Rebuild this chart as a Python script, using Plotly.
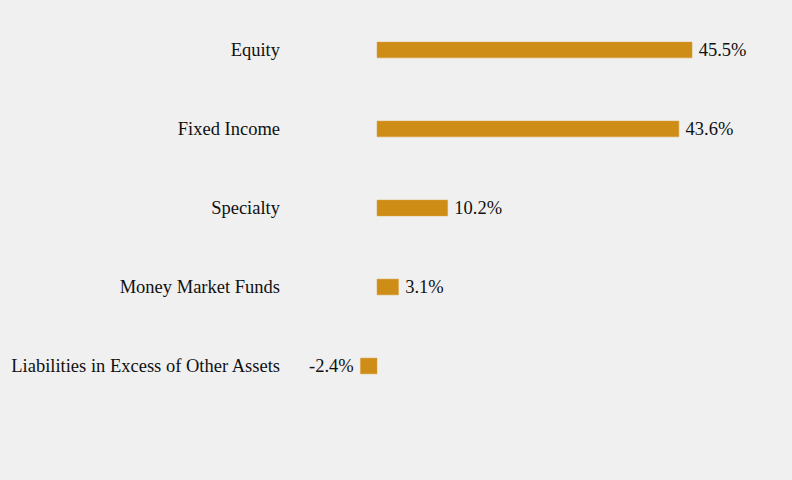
import plotly.graph_objects as go

categories = ["Equity", "Fixed Income", "Specialty", "Money Market Funds",
              "Liabilities in Excess of Other Assets"]
values = [45.5, 43.6, 10.2, 3.1, -2.4]
labels = ["45.5%", "43.6%", "10.2%", "3.1%", "-2.4%"]

bar_color = "#CD8D17"
bg = "#F0F0F0"
font_family = "Liberation Serif, Times New Roman, serif"
fs = 18.5

# thin-space padding between bar end and its value label
text = ["\u2009" + t if v >= 0 else t + "\u2009" for t, v in zip(labels, values)]

fig = go.Figure(go.Bar(
    y=categories,
    x=values,
    orientation="h",
    width=0.2,
    marker=dict(color=bar_color, line=dict(color="#D9A040", width=0.5)),
    text=text,
    textposition="outside",
    textfont=dict(family=font_family, size=fs, color="#111111"),
    cliponaxis=False,
    hoverinfo="skip",
))

fig.update_layout(
    width=792, height=480,
    paper_bgcolor=bg, plot_bgcolor=bg,
    margin=dict(l=281, r=20, t=10, b=40),
    showlegend=False,
    uniformtext=dict(minsize=fs, mode="show"),
    font=dict(family=font_family, size=fs, color="#111111"),
    xaxis=dict(range=[-13.87, 57.05], visible=False, showgrid=False, zeroline=False),
    yaxis=dict(
        type="category",
        categoryorder="array", categoryarray=categories,
        range=[4.937, -0.506],
        showgrid=False, zeroline=False, showline=False, ticks="",
        tickfont=dict(family=font_family, size=fs, color="#111111"),
        automargin=False,
    ),
)

fig.write_html("out.html")
